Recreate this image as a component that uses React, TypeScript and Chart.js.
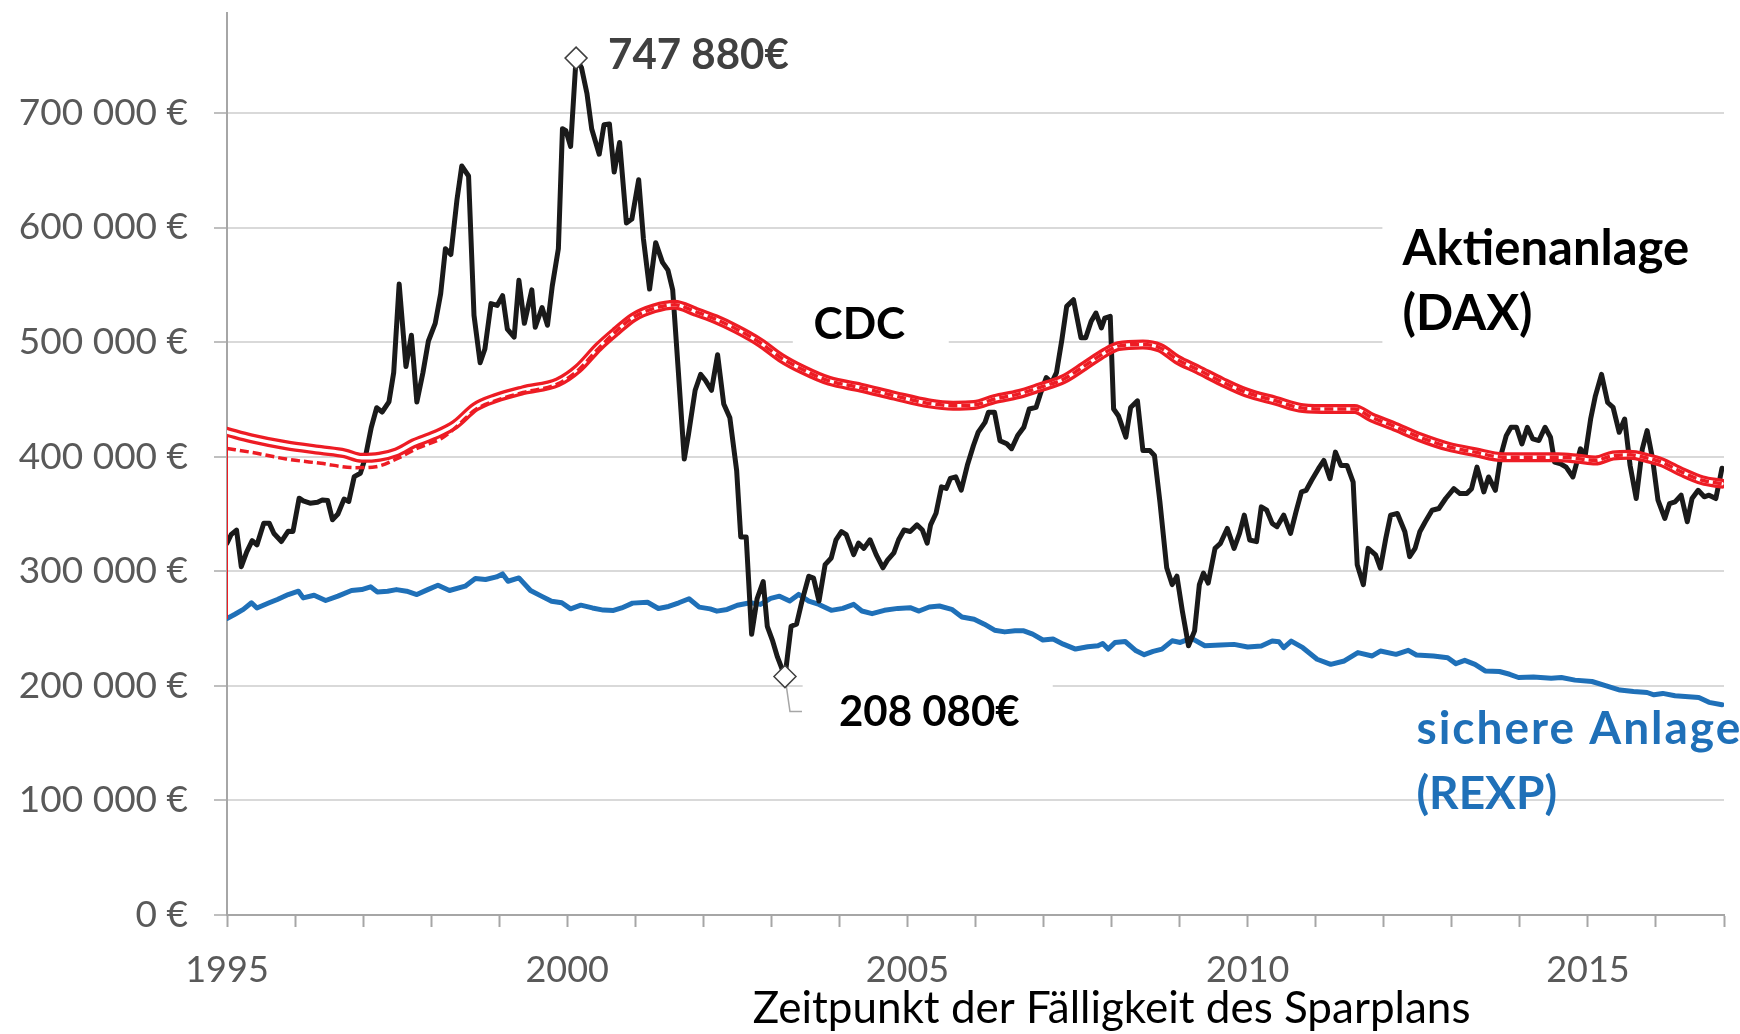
import React, { useEffect, useRef } from "react";
import { Chart, registerables } from "chart.js";

Chart.register(...registerables);

// ---------- DATA ----------
const daxYears = [
  1995.00, 1995.06, 1995.14, 1995.21, 1995.29, 1995.37, 1995.44, 1995.54, 1995.62, 1995.69, 1995.80, 1995.90, 1995.97,
  1996.06, 1996.12, 1996.22, 1996.33, 1996.40, 1996.48, 1996.55, 1996.63, 1996.72, 1996.79, 1996.87, 1996.96,
  1997.03, 1997.12, 1997.20, 1997.28, 1997.38, 1997.45, 1997.53, 1997.63, 1997.71, 1997.79, 1997.88, 1997.96,
  1998.06, 1998.14, 1998.21, 1998.29, 1998.38, 1998.45, 1998.55, 1998.63, 1998.72, 1998.79, 1998.88, 1998.97,
  1999.05, 1999.12, 1999.22, 1999.29, 1999.37, 1999.48, 1999.53, 1999.63, 1999.71, 1999.78, 1999.87, 1999.93, 1999.98,
  2000.05, 2000.13, 2000.21, 2000.29, 2000.36, 2000.47, 2000.54, 2000.62, 2000.69, 2000.77, 2000.87, 2000.95,
  2001.05, 2001.12, 2001.21, 2001.30, 2001.40, 2001.48, 2001.55, 2001.63, 2001.72, 2001.78, 2001.88, 2001.96,
  2002.03, 2002.12, 2002.21, 2002.30, 2002.39, 2002.49, 2002.55, 2002.63, 2002.71, 2002.79, 2002.88, 2002.94,
  2003.02, 2003.09, 2003.20, 2003.29, 2003.37, 2003.45, 2003.55, 2003.62, 2003.70, 2003.79, 2003.88, 2003.95,
  2004.03, 2004.10, 2004.21, 2004.28, 2004.36, 2004.45, 2004.54, 2004.64, 2004.71, 2004.80, 2004.87, 2004.95,
  2005.04, 2005.14, 2005.22, 2005.29, 2005.34, 2005.42, 2005.50, 2005.57, 2005.63, 2005.71, 2005.79, 2005.88, 2005.97,
  2006.04, 2006.14, 2006.19, 2006.28, 2006.36, 2006.46, 2006.53, 2006.62, 2006.71, 2006.79, 2006.89, 2006.96,
  2007.04, 2007.12, 2007.19, 2007.27, 2007.34, 2007.44, 2007.55, 2007.62, 2007.70, 2007.77, 2007.85, 2007.90, 2007.98,
  2008.03, 2008.10, 2008.21, 2008.28, 2008.38, 2008.46, 2008.56, 2008.63, 2008.71, 2008.81, 2008.89, 2008.96,
  2009.04, 2009.13, 2009.22, 2009.29, 2009.35, 2009.42, 2009.52, 2009.60, 2009.70, 2009.80, 2009.88, 2009.95,
  2010.03, 2010.13, 2010.20, 2010.28, 2010.36, 2010.43, 2010.53, 2010.63, 2010.71, 2010.79, 2010.86, 2010.94,
  2011.04, 2011.12, 2011.21, 2011.29, 2011.37, 2011.46, 2011.55, 2011.61, 2011.70, 2011.77, 2011.88, 2011.95,
  2012.03, 2012.10, 2012.20, 2012.31, 2012.38, 2012.46, 2012.53, 2012.61, 2012.71, 2012.81, 2012.91,
  2013.03, 2013.12, 2013.22, 2013.29, 2013.37, 2013.47, 2013.54, 2013.64, 2013.72, 2013.80, 2013.87, 2013.95,
  2014.03, 2014.11, 2014.19, 2014.28, 2014.37, 2014.45, 2014.51, 2014.60, 2014.68, 2014.78, 2014.89, 2014.96,
  2015.04, 2015.11, 2015.20, 2015.29, 2015.37, 2015.46, 2015.54, 2015.62, 2015.71, 2015.80, 2015.87, 2015.95,
  2016.03, 2016.13, 2016.20, 2016.28, 2016.37, 2016.46, 2016.53, 2016.62, 2016.71, 2016.78, 2016.88, 2016.93, 2016.97,
];
const daxValues = [
  324600, 331900, 336000, 304000, 317000, 326700, 323000, 342000, 342000, 333000, 326000, 335000, 334800,
  363800, 361400, 359400, 360300, 362300, 361700, 345000, 350000, 363000, 361000, 382600, 385500,
  398600, 425500, 442700, 439000, 447800, 473500, 550700, 478700, 506000, 447800, 473500, 501000,
  516400, 542200, 581600, 576500, 624500, 653700, 645000, 523300, 482000, 494000, 533600, 532000,
  540500, 511300, 504400, 554000, 516400, 545600, 513000, 530200, 514700, 549000, 581600, 686300, 684600,
  670800, 747880, 739500, 717000, 686000, 664000, 689700, 690400, 648500, 674300, 604000, 607400,
  641700, 590000, 546300, 586800, 569600, 562800, 545600, 477000, 398000, 418700, 458000, 471800,
  466700, 458000, 489000, 446000, 434000, 387800, 330000, 330000, 245000, 276000, 291000, 252000,
  239000, 225000, 208080, 252000, 253800, 274000, 295700, 294000, 274000, 305800, 311600, 327500,
  334700, 332000, 314500, 324600, 320000, 327500, 314500, 303000, 310000, 316000, 327500, 336000,
  334700, 340500, 336000, 324600, 340500, 350600, 373700, 372300, 381000, 382400, 370800, 392500, 409800,
  421400, 430000, 438700, 438700, 414000, 411300, 407000, 418500, 425700, 441600, 443000, 456000,
  469000, 464700, 473400, 502300, 531200, 537000, 503800, 503800, 518200, 525400, 512400, 521000, 522500,
  441600, 435800, 417000, 443000, 448800, 405500, 405500, 401000, 360700, 303000, 288400, 295700,
  265300, 235000, 248000, 288400, 298400, 289700, 320000, 324400, 337400, 320000, 333000, 349000,
  327300, 325900, 356200, 353300, 341800, 338900, 349000, 333000, 351900, 369300, 370700, 379400,
  389500, 396700, 380800, 404000, 392400, 392400, 377900, 305600, 288300, 320000, 314300, 302700,
  328800, 349000, 350400, 334500, 312800, 320000, 334500, 343200, 353300, 354800, 363500,
  372100, 367800, 367800, 372100, 390900, 369300, 382300, 370700, 401000, 418400, 425700, 425700,
  411200, 425700, 415500, 414100, 425700, 417000, 395300, 393800, 390900, 382300, 406900, 401000,
  432900, 453100, 471900, 447300, 443000, 421300, 432900, 392400, 363500, 406900, 422800, 398200,
  362000, 346100, 359100, 360600, 366400, 343200, 363500, 370700, 365000, 366400, 363500, 377900, 390000,
];

const rexpYears = [
  1995.00, 1995.11, 1995.24, 1995.36, 1995.44, 1995.62, 1995.74, 1995.90, 1996.05, 1996.12, 1996.28, 1996.45,
  1996.63, 1996.83, 1996.98, 1997.11, 1997.21, 1997.36, 1997.49, 1997.64, 1997.79, 1997.95, 1998.10, 1998.27,
  1998.50, 1998.65, 1998.80, 1998.96, 1999.05, 1999.13, 1999.29, 1999.46, 1999.62, 1999.77, 1999.92, 2000.05,
  2000.20, 2000.37, 2000.53, 2000.68, 2000.80, 2000.96, 2001.18, 2001.34, 2001.49, 2001.64, 2001.79, 2001.94,
  2002.10, 2002.20, 2002.35, 2002.50, 2002.69, 2002.84, 2002.99, 2003.12, 2003.27, 2003.40, 2003.55, 2003.70,
  2003.88, 2004.05, 2004.21, 2004.33, 2004.48, 2004.66, 2004.86, 2005.04, 2005.17, 2005.32, 2005.47, 2005.65,
  2005.80, 2005.98, 2006.13, 2006.28, 2006.43, 2006.58, 2006.71, 2006.84, 2006.99, 2007.14, 2007.29, 2007.47,
  2007.65, 2007.80, 2007.87, 2007.95, 2008.05, 2008.20, 2008.36, 2008.48, 2008.61, 2008.74, 2008.89, 2009.01,
  2009.17, 2009.37, 2009.60, 2009.80, 2010.00, 2010.20, 2010.36, 2010.46, 2010.53, 2010.64, 2010.81, 2011.02,
  2011.22, 2011.42, 2011.62, 2011.83, 2011.95, 2012.18, 2012.36, 2012.48, 2012.73, 2012.94, 2013.06, 2013.19,
  2013.34, 2013.49, 2013.70, 2013.85, 2013.98, 2014.20, 2014.46, 2014.61, 2014.81, 2015.06, 2015.27, 2015.47,
  2015.67, 2015.87, 2015.97, 2016.10, 2016.28, 2016.48, 2016.63, 2016.78, 2016.97,
];
const rexpValues = [
  258800, 262300, 266700, 272500, 268000, 272500, 275400, 279700, 282600, 276800, 279100, 274500,
  278300, 283200, 284000, 286400, 282000, 282600, 284000, 282600, 279700, 284000, 287800, 283200,
  287000, 293600, 292800, 295100, 297700, 291300, 294200, 283200, 278300, 273900, 272500, 267200,
  270400, 268000, 266100, 265800, 268000, 272200, 273000, 267500, 269300, 272500, 276000, 268700,
  267200, 265200, 266700, 270400, 272500, 271100, 276300, 278300, 274000, 279800, 274000, 271100,
  265900, 267600, 271100, 265300, 263000, 265900, 267600, 268200, 265300, 268800, 269700, 266800,
  260100, 258100, 253800, 248600, 247100, 248000, 248000, 245100, 240000, 240800, 236400, 232100,
  234100, 235000, 237000, 232100, 237900, 238700, 230600, 227200, 230100, 232100, 239300, 237900,
  241600, 235000, 235600, 236200, 233900, 234700, 239100, 238500, 233300, 239100, 233300, 223200,
  218800, 221700, 229000, 226100, 230400, 227500, 231000, 226900, 226100, 224600, 219400, 222300,
  218800, 213000, 212500, 210100, 207300, 207800, 206700, 207300, 205000, 203800, 200000, 196300,
  195100, 194200, 192200, 193400, 191300, 190500, 189900, 185600, 183500,
];

const cdcYears = [
  1995.00, 1995.36, 1995.87, 1996.38, 1996.73, 1996.98, 1997.24, 1997.49, 1997.74, 1998.05, 1998.35, 1998.65,
  1998.95, 1999.35, 1999.86, 2000.16, 2000.46, 2000.72, 2000.97, 2001.28, 2001.58, 2001.88, 2002.18, 2002.49,
  2002.84, 2003.14, 2003.45, 2003.85, 2004.31, 2004.81, 2005.32, 2005.67, 2005.98, 2006.28, 2006.63, 2006.94,
  2007.29, 2007.60, 2007.90, 2008.10, 2008.46, 2008.71, 2008.96, 2009.27, 2009.62, 2009.98, 2010.41, 2010.81,
  2011.22, 2011.57, 2011.82, 2012.13, 2012.53, 2012.94, 2013.34, 2013.75, 2014.15, 2014.56, 2014.86, 2015.11,
  2015.37, 2015.62, 2015.87, 2016.08, 2016.38, 2016.68, 2016.97,
];
const cdcValues = [
  421700, 416000, 410000, 405800, 402900, 399000, 400000, 403800, 411600, 418800, 428000, 443500,
  451200, 458000, 465000, 477000, 495900, 509600, 521600, 529500, 532600, 526700, 520000, 511300,
  499400, 486400, 476300, 466200, 460400, 453200, 446500, 444500, 445100, 450300, 454600, 460400,
  467600, 479200, 490800, 496500, 498000, 495100, 485000, 476000, 465500, 456000, 448800, 442400,
  441600, 441600, 434300, 427100, 417000, 408900, 404000, 399600, 399600, 399600, 398200, 396700,
  401000, 401600, 398800, 395300, 386600, 379400, 376500,
];

const cdcAltYears = [
  1995.00, 1995.36, 1995.87, 1996.38, 1996.88, 1997.19, 1997.49, 1997.79, 1998.15, 1998.35, 1998.65, 1998.95,
  1999.35, 1999.86, 2000.16, 2000.46, 2000.72, 2000.97, 2001.28, 2001.58, 2001.88, 2002.18, 2002.49,
  2002.84, 2003.14, 2003.45, 2003.85, 2004.31, 2004.81, 2005.32, 2005.67, 2005.98, 2006.28, 2006.63, 2006.94,
  2007.29, 2007.60, 2007.90, 2008.10, 2008.46, 2008.71, 2008.96, 2009.27, 2009.62, 2009.98, 2010.41, 2010.81,
  2011.22, 2011.57, 2011.82, 2012.13, 2012.53, 2012.94, 2013.34, 2013.75, 2014.15, 2014.56, 2014.86, 2015.11,
  2015.37, 2015.62, 2015.87, 2016.08, 2016.38, 2016.68, 2016.97,
];
const cdcAltValues = [
  407200, 403800, 398000, 394200, 390400, 391300, 398000, 407200, 416000, 425000, 441000, 449000,
  456000, 463500, 475500, 494500, 509600, 521600, 529500, 532600, 526700, 520000, 511300,
  499400, 486400, 476300, 466200, 460400, 453200, 446500, 444500, 445100, 450300, 454600, 460400,
  467600, 479200, 490800, 496500, 498000, 495100, 485000, 476000, 465500, 456000, 448800, 442400,
  441600, 441600, 434300, 427100, 417000, 408900, 404000, 399600, 399600, 399600, 398200, 396700,
  401000, 401600, 398800, 395300, 386600, 379400, 376500,
];

// start segment of the CDC curve (vertical jump at the first month)
const cdcStartYears = [1995.0, 1995.0];
const cdcStartValues = [259000, 424000];

const xMin = 1995;
const xMax = 2017;
const yMax = 787700;
const yTickValues = [0, 100000, 200000, 300000, 400000, 500000, 600000, 700000];
const labeledYears = [1995, 2000, 2005, 2010, 2015];

// ---------- COLORS ----------
const RED = "#ed1c24";
const BLUE = "#1f70b8";
const BLACK = "#1a1a1a";

const fmtEuro = (v: number) => {
  if (v === 0) return "0 €";
  const s = String(Math.round(v));
  return s.replace(/\B(?=(\d{3})+(?!\d))/g, " ") + " €";
};
const fmtEuroTight = (v: number) =>
  String(Math.round(v)).replace(/\B(?=(\d{3})+(?!\d))/g, " ") + "€";

export default function App() {
  const ref = useRef<HTMLCanvasElement>(null);

  useEffect(() => {
    document.body.style.margin = "0";
    const canvas = ref.current!;
    const pts = (xs: number[], ys: number[]) => xs.map((x, i) => ({ x, y: ys[i] }));

    // extremes of the DAX series
    let iMax = 0;
    let iMin = 0;
    daxValues.forEach((v, i) => {
      if (v > daxValues[iMax]) iMax = i;
      if (v < daxValues[iMin]) iMin = i;
    });
    const peak = { x: daxYears[iMax], y: daxValues[iMax] };
    const trough = { x: daxYears[iMin], y: daxValues[iMin] };

    const FONT = "Lato";

    const annot = {
      id: "annot",
      beforeDatasetsDraw(chart: any) {
        const { ctx, scales } = chart;
        const xs = scales.x;
        const ys = scales.y;
        const P = (a: number, b: number) => [xs.getPixelForValue(a), ys.getPixelForValue(b)];
        ctx.save();
        ctx.fillStyle = "#ffffff";
        const boxes = [
          [2003.315, 542800, 2005.607, 490700],
          [2011.98, 621000, 2017.2, 495000],
          [2003.46, 211000, 2007.135, 147600],
        ];
        for (const b of boxes) {
          const [x1, y1] = P(b[0], b[1]);
          const [x2, y2] = P(b[2], b[3]);
          ctx.fillRect(x1, y1, x2 - x1, y2 - y1);
        }
        // leader line for trough label
        const [tx, ty] = P(trough.x, trough.y);
        ctx.strokeStyle = "#a6a6a6";
        ctx.lineWidth = 1.5;
        ctx.beginPath();
        ctx.moveTo(tx, ty);
        ctx.lineTo(tx + 5, ty + 35);
        ctx.lineTo(tx + 17, ty + 35);
        ctx.stroke();
        ctx.restore();
      },
      afterDatasetsDraw(chart: any) {
        const { ctx, scales } = chart;
        const xs = scales.x;
        const ys = scales.y;
        const P = (a: number, b: number) => [xs.getPixelForValue(a), ys.getPixelForValue(b)];
        ctx.save();
        ctx.textBaseline = "alphabetic";
        ctx.textAlign = "left";
        const [px, py] = P(peak.x, peak.y);
        ctx.font = `bold 42px ${FONT}`;
        ctx.fillStyle = "#404040";
        ctx.fillText(fmtEuroTight(peak.y), px + 32, py + 11);

        const [tx, ty] = P(trough.x, trough.y);
        ctx.font = `bold 42px ${FONT}`;
        ctx.fillStyle = "#000000";
        ctx.fillText(fmtEuroTight(trough.y), tx + 54, ty + 49);

        ctx.font = `bold 44px ${FONT}`;
        let [a, b] = P(2003.62, 502500);
        ctx.fillText("CDC", a, b);

        ctx.font = `bold 49px ${FONT}`;
        [a, b] = P(2012.276, 567100);
        ctx.fillText("Aktienanlage", a, b);
        [a, b] = P(2012.276, 510700);
        ctx.fillText("(DAX)", a, b);

        ctx.font = `bold 46px ${FONT}`;
        ctx.fillStyle = BLUE;
        [a, b] = P(2012.48, 149400);
        (ctx as any).letterSpacing = "2px";
        ctx.fillText("sichere Anlage", a, b);
        (ctx as any).letterSpacing = "0px";
        [a, b] = P(2012.48, 92900);
        ctx.fillText("(REXP)", a, b);

        ctx.font = `44px ${FONT}`;
        ctx.fillStyle = "#000000";
        ctx.textAlign = "center";
        ctx.fillText("Zeitpunkt der Fälligkeit des Sparplans", xs.getPixelForValue(2008), chart.height - 11);
        ctx.restore();
      },
    };

    const lineBase = {
      pointRadius: 0,
      pointHoverRadius: 0,
      fill: false,
      borderJoinStyle: "round" as const,
      borderCapStyle: "round" as const,
    };

    const chart = new Chart(canvas, {
      type: "line",
      data: {
        datasets: [
          {
            label: "Extremwerte",
            data: [peak, trough],
            showLine: false,
            pointStyle: "rectRot",
            pointRadius: 11,
            pointHoverRadius: 11,
            pointBackgroundColor: "#ffffff",
            pointBorderColor: "#404040",
            pointBorderWidth: 1.5,
          },
          {
            ...lineBase,
            label: "CDC (Variante)",
            data: pts(cdcAltYears, cdcAltValues),
            borderColor: RED,
            borderWidth: 3.5,
            borderDash: [9, 4],
            borderCapStyle: "butt" as const,
            cubicInterpolationMode: "monotone",
          },
          {
            ...lineBase,
            label: "CDC inner",
            data: pts(cdcYears, cdcValues),
            borderColor: "#ffffff",
            borderWidth: 3.5,
            cubicInterpolationMode: "monotone",
          },
          {
            ...lineBase,
            label: "CDC",
            data: pts(cdcYears, cdcValues),
            borderColor: RED,
            borderWidth: 10,
            cubicInterpolationMode: "monotone",
          },
          {
            ...lineBase,
            label: "CDC start",
            data: pts(cdcStartYears, cdcStartValues),
            borderColor: RED,
            borderWidth: 2,
          },
          {
            ...lineBase,
            label: "Aktienanlage (DAX)",
            data: pts(daxYears, daxValues),
            borderColor: BLACK,
            borderWidth: 5,
            tension: 0,
          },
          {
            ...lineBase,
            label: "sichere Anlage (REXP)",
            data: pts(rexpYears, rexpValues),
            borderColor: BLUE,
            borderWidth: 5,
            tension: 0,
          },
        ],
      },
      options: {
        responsive: false,
        animation: false,
        devicePixelRatio: 1,
        parsing: false as any,
        layout: { padding: { top: 8, right: 16, left: 0, bottom: 0 } },
        plugins: {
          legend: { display: false },
          tooltip: { enabled: false },
          title: { display: false },
        },
        events: [],
        scales: {
          x: {
            type: "linear",
            min: xMin,
            max: xMax,
            ticks: {
              stepSize: 1,
              autoSkip: false,
              maxRotation: 0,
              padding: 22,
              color: "#595959",
              font: { family: FONT, size: 36 },
              callback: (v: any) => (labeledYears.includes(Math.round(v)) ? String(Math.round(v)) : ""),
            },
            grid: {
              drawOnChartArea: false,
              tickLength: 12,
              tickColor: "#a6a6a6",
              tickWidth: 2,
            },
            border: { display: true, color: "#a6a6a6", width: 2 },
            afterFit: (s: any) => {
              s.height = 119;
              s.paddingLeft = 0;
              s.paddingRight = 0;
            },
          },
          y: {
            type: "linear",
            min: 0,
            max: yMax,
            afterBuildTicks: (s: any) => {
              s.ticks = yTickValues.map((v) => ({ value: v }));
            },
            ticks: {
              padding: 26,
              color: "#595959",
              font: { family: FONT, size: 37 },
              callback: (v: any) => fmtEuro(Number(v)),
            },
            grid: {
              color: "#d9d9d9",
              lineWidth: 2,
              tickLength: 13,
              tickColor: "#bfbfbf",
            },
            border: { display: true, color: "#a6a6a6", width: 2 },
            afterFit: (s: any) => {
              s.width = 227;
              s.paddingTop = 0;
              s.paddingBottom = 0;
            },
          },
        },
      },
      plugins: [annot],
    } as any);

    return () => chart.destroy();
  }, []);

  return (
    <div style={{ width: 1740, height: 1034 }}>
      <canvas ref={ref} width={1740} height={1034} style={{ display: "block" }} />
    </div>
  );
}
